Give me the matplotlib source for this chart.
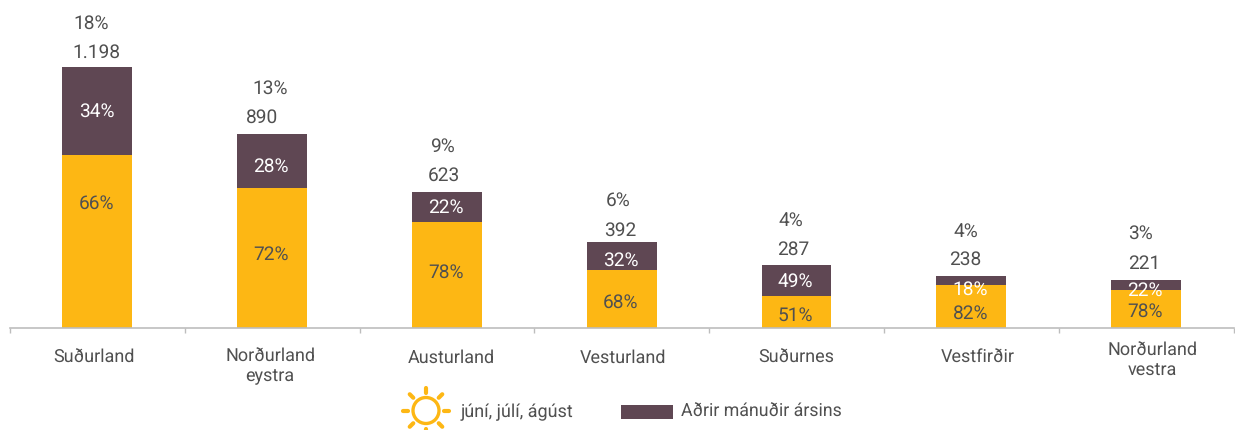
#!/usr/bin/env python3
"""Stacked bars: share of summer vs. other months by region."""

import numpy as np
import matplotlib
matplotlib.use("Agg")
import matplotlib.pyplot as plt
from matplotlib.patches import Circle, Rectangle
from matplotlib.transforms import ScaledTranslation

regions = ["Suðurland", "Norðurland\neystra", "Austurland", "Vesturland",
           "Suðurnes", "Vestfirðir", "Norðurland\nvestra"]
totals = [1198, 890, 623, 392, 287, 238, 221]
total_labels = ["1.198", "890", "623", "392", "287", "238", "221"]
total_shares = [18, 13, 9, 6, 4, 4, 3]
summer_pct = [66, 72, 78, 68, 51, 82, 78]
other_pct = [34, 28, 22, 32, 49, 18, 22]

YELLOW = "#FDB714"
PLUM = "#5F4753"
TEXT = "#505050"
AXIS = "#BDBDBD"
SIZE = 13.8
TICK_SIZE = 13
LEG_SIZE = 13

plt.rcParams["font.family"] = ["Roboto", "DejaVu Sans"]
plt.rcParams["text.hinting"] = "no_hinting"

W, H = 1235, 430
BASE_Y = 328
fig = plt.figure(figsize=(W / 100, H / 100), dpi=100)
ax = fig.add_axes([10 / W, (H - BASE_Y) / H, 1223.5 / W, BASE_Y / H])

x = np.arange(len(regions))
totals_arr = np.array(totals, dtype=float)
summer = totals_arr * np.array(summer_pct) / 100
other = totals_arr * np.array(other_pct) / 100

ax.bar(x, summer, width=0.4, color=YELLOW)
ax.bar(x, other, width=0.4, bottom=summer, color=PLUM)
ax.set_xlim(-0.5, 6.5)
ax.set_ylim(0, 1503)
ax.set_yticks([])
for side in ("top", "left", "right"):
    ax.spines[side].set_visible(False)
ax.spines["bottom"].set_color(AXIS)
ax.spines["bottom"].set_linewidth(1.2)


def px_offset(dx, dy):
    return ScaledTranslation(dx / 100, -dy / 100, fig.dpi_scale_trans)


# ticks sit between the categories, labels on the categories
ax.set_xticks(np.arange(-0.5, 7), minor=True)
ax.tick_params(axis="x", which="minor", length=3.5, width=1, color=AXIS)
ax.set_xticks(x)
ax.set_xticklabels(regions, fontsize=TICK_SIZE, color=TEXT, linespacing=1.2)
ax.tick_params(axis="x", which="major", length=0, pad=13)
label_shift = [(-3, 3), (-2, 2), (4, 3), (1, 3), (0, 3), (6, 3), (6, -4)]
for lab, (dx, dy) in zip(ax.get_xticklabels(), label_shift):
    lab.set_transform(lab.get_transform() + px_offset(dx, dy))

# nudges in pixels, the labels in the source are hand placed
total_dx = [-1, -10, -3, -2, -3, -6, -2]
total_gap = [15, 17, 17, 13, 17, 17, 17]
share_dx = [-6, -2, -5, -4, -6, -5, -6]
share_gap = [44, 46, 46, 43, 46, 45, 47]
summer_dy = [-39, -4, -3, 3, 3, 6, 1]
other_dy = [0, 5, 0, 3, 0, 8, 5]

for i in x:
    top = totals[i]
    ax.text(i, top, total_labels[i], ha="center", va="center", fontsize=SIZE, color=TEXT,
            transform=ax.transData + px_offset(total_dx[i], -total_gap[i] + 1))
    ax.text(i, top, f"{total_shares[i]}%", ha="center", va="center", fontsize=SIZE, color=TEXT,
            transform=ax.transData + px_offset(share_dx[i], -share_gap[i] + 1))
    ax.text(i, summer[i] / 2, f"{summer_pct[i]}%", ha="center", va="center", fontsize=SIZE,
            color=TEXT, transform=ax.transData + px_offset(-1, summer_dy[i] + 1))
    ax.text(i, summer[i] + other[i] / 2, f"{other_pct[i]}%", ha="center", va="center",
            fontsize=SIZE, color="white",
            transform=ax.transData + px_offset(-1, other_dy[i] + 1))

# legend, drawn in an overlay with pixel coordinates
leg = fig.add_axes([0, 0, 1, 1], facecolor="none")
leg.set_xlim(0, W)
leg.set_ylim(H, 0)
leg.axis("off")
sun_x, sun_y = 426, 410.5
leg.add_patch(Circle((sun_x, sun_y), 13, fill=False, ec=YELLOW, lw=2.4))
for ang in np.deg2rad(np.arange(0, 360, 45)):
    leg.plot([sun_x + 18 * np.cos(ang), sun_x + 23 * np.cos(ang)],
             [sun_y + 18 * np.sin(ang), sun_y + 23 * np.sin(ang)],
             color=YELLOW, lw=3, solid_capstyle="round")
leg.text(461, 412, "júní, júlí, ágúst", ha="left", va="center", fontsize=LEG_SIZE, color=TEXT)
leg.add_patch(Rectangle((621, 405), 52, 14, fc=PLUM, ec="none"))
leg.text(681, 412, "Aðrir mánuðir ársins", ha="left", va="center", fontsize=12.8, color=TEXT)

fig.savefig("out.png", dpi=100)
